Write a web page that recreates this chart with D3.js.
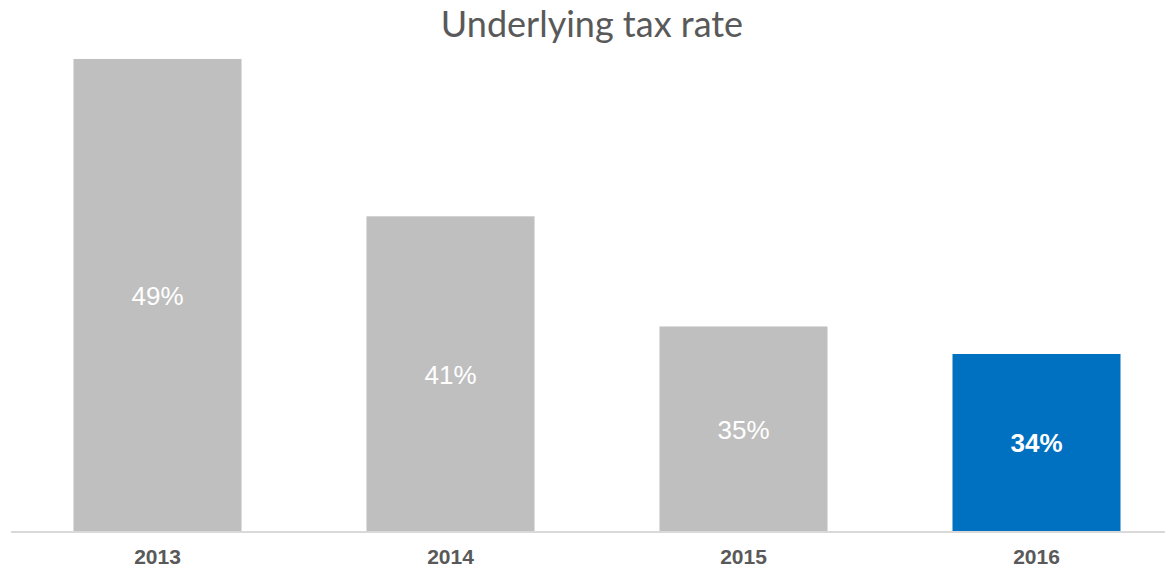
<!DOCTYPE html>
<html>
<head>
<meta charset="utf-8">
<script src="https://cdn.jsdelivr.net/npm/d3@7"></script>
<style>
  body { margin: 0; background: #fff; }
  svg { display: block; }
</style>
</head>
<body>
<svg id="chart"></svg>
<script>
var chartTitle = "Underlying tax rate";
var years = ["2013", "2014", "2015", "2016"];
var taxRates = [0.49, 0.41, 0.354, 0.34];
var highlightYear = "2016";

var config = { width: 1165, height: 567, left: 11, right: 1183, top: 39.3, bottom: 531 };

var datos = years.map(function(y, i) { return { nombre: y, valor: taxRates[i] }; });

var svg = d3.select("#chart")
    .attr("width", config.width)
    .attr("height", config.height);

var x = d3.scaleBand()
    .domain(years)
    .range([config.left, config.right])
    .paddingInner(0.4266)
    .paddingOuter(0.2133);

var y = d3.scaleLinear()
    .domain([0.25, 0.50])
    .range([config.bottom, config.top]);

// title
svg.append("text")
    .attr("x", 592)
    .attr("y", 37)
    .attr("text-anchor", "middle")
    .style("font-family", "Lato, 'Open Sans', sans-serif")
    .style("font-size", "36px")
    .style("fill", "#595959")
    .text(chartTitle);

// bars
svg.selectAll("rect.bar")
    .data(datos)
    .enter().append("rect")
    .attr("class", "bar")
    .attr("x", function(d) { return x(d.nombre); })
    .attr("y", function(d) { return y(d.valor); })
    .attr("width", x.bandwidth())
    .attr("height", function(d) { return config.bottom - y(d.valor); })
    .attr("fill", function(d) { return d.nombre === highlightYear ? "#0070c0" : "#bfbfbf"; });

// value labels
svg.selectAll("text.valor")
    .data(datos)
    .enter().append("text")
    .attr("class", "valor")
    .attr("x", function(d) { return x(d.nombre) + x.bandwidth() / 2; })
    .attr("y", function(d) { return (y(d.valor) + config.bottom) / 2 + 10; })
    .attr("text-anchor", "middle")
    .style("font-family", "'Liberation Sans', Arial, sans-serif")
    .style("font-size", "26px")
    .style("font-weight", function(d) { return d.nombre === highlightYear ? "bold" : "normal"; })
    .style("fill", "#ffffff")
    .text(function(d) { return d3.format(".0%")(d.valor); });

// x axis
var ejeX = d3.axisBottom(x).tickSize(0).tickPadding(17);
var gx = svg.append("g")
    .attr("transform", "translate(0," + (config.bottom + 1) + ")")
    .call(ejeX);
gx.select(".domain")
    .attr("d", "M" + config.left + ",0H" + config.right)
    .attr("stroke", "#d9d9d9")
    .attr("stroke-width", 2);
gx.selectAll("text")
    .style("font-family", "'Liberation Sans', Arial, sans-serif")
    .style("font-size", "21px")
    .style("font-weight", "bold")
    .style("fill", "#595959");
</script>
</body>
</html>
